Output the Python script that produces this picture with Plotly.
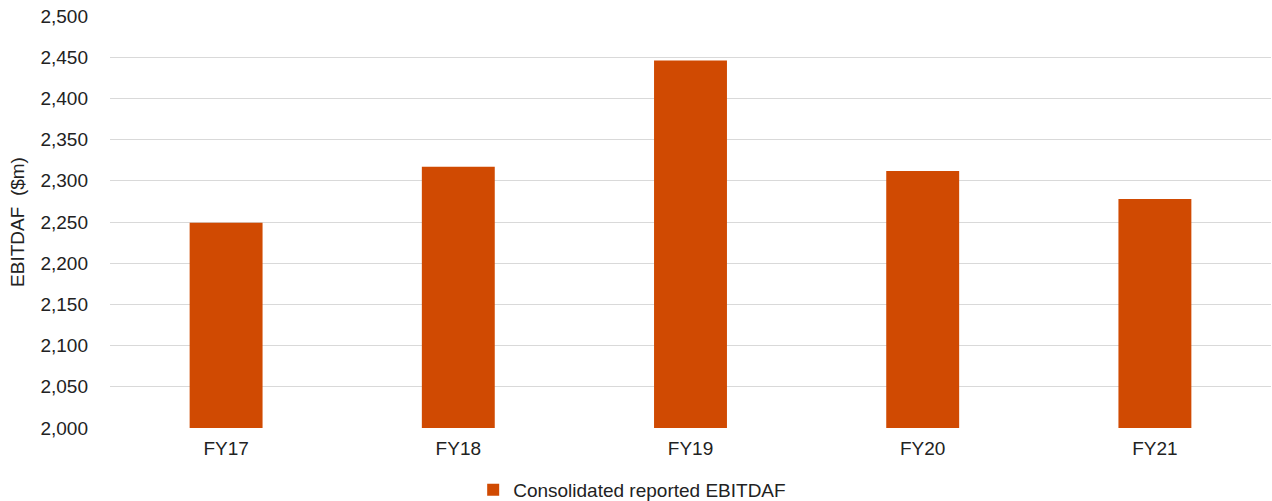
import plotly.graph_objects as go

# EBITDAF by financial year
years = ["FY17", "FY18", "FY19", "FY20", "FY21"]
ebitdaf = [2249, 2317, 2446, 2312, 2278]
y_ticks = [2000, 2050, 2100, 2150, 2200, 2250, 2300, 2350, 2400, 2450, 2500]

BAR_COLOR = "#D04A02"
GRID_COLOR = "#D9D9D9"
FONT = "Liberation Sans, Arial, sans-serif"

fig = go.Figure(
    go.Bar(
        x=years,
        y=ebitdaf,
        name="Consolidated reported EBITDAF",
        marker=dict(color=BAR_COLOR, line=dict(width=0)),
        showlegend=True,
    )
)

fig.update_layout(
    width=1272,
    height=501,
    margin=dict(l=110, r=1, t=16, b=73),
    paper_bgcolor="white",
    plot_bgcolor="white",
    font=dict(family=FONT, size=19, color="#222222"),
    bargap=0.686,
    showlegend=True,
    legend=dict(
        orientation="h",
        xref="container",
        yref="container",
        x=0.497,
        xanchor="center",
        y=0.022,
        yanchor="middle",
        font=dict(size=19, color="#222222"),
        itemwidth=30,
        traceorder="normal",
    ),
)

fig.update_xaxes(
    showgrid=False,
    showline=False,
    ticks="",
    ticklabelstandoff=7,
    tickfont=dict(size=19),
)

fig.update_yaxes(
    range=[2000, 2500],
    tickvals=y_ticks,
    tickformat=",d",
    showgrid=True,
    gridcolor=GRID_COLOR,
    gridwidth=1,
    zeroline=False,
    showline=False,
    ticks="",
    ticklabelstandoff=21,
    tickfont=dict(size=19),
    title=dict(text="EBITDAF  ($m)", font=dict(size=19), standoff=10),
    automargin=False,
)

fig.write_html("out.html")
